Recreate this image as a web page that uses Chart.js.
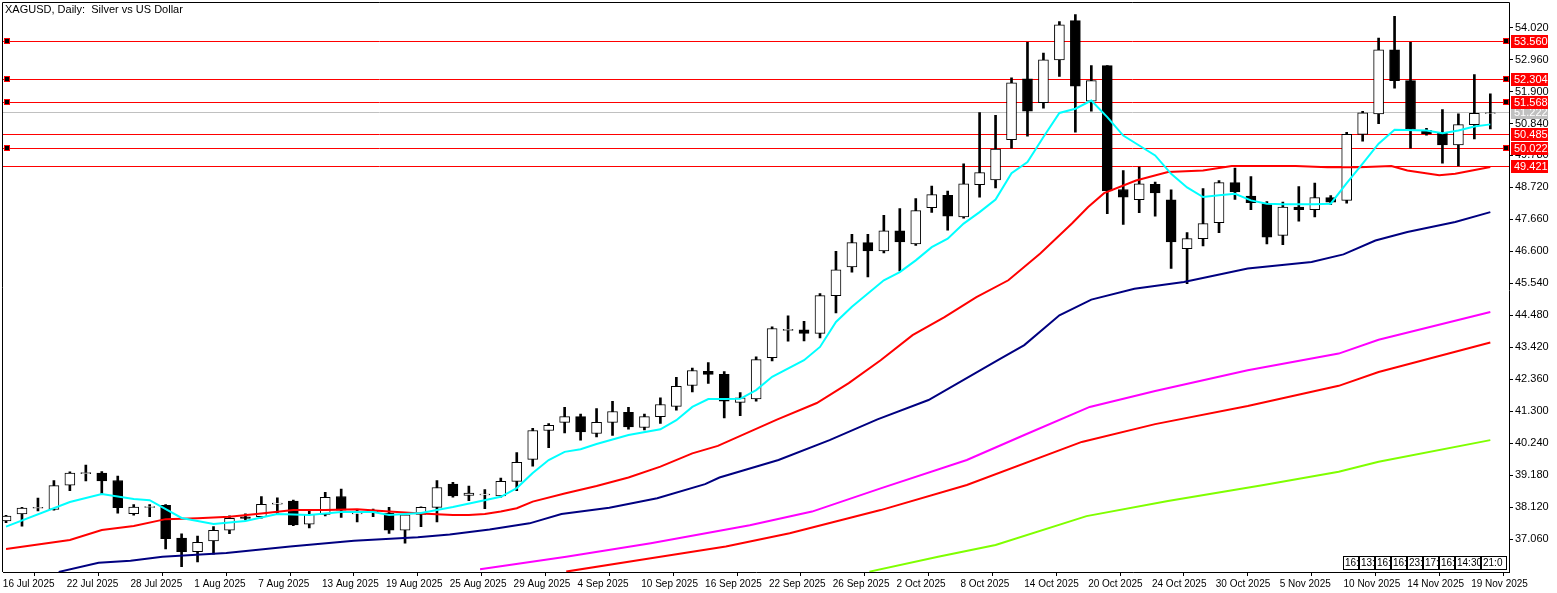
<!DOCTYPE html>
<html><head><meta charset="utf-8">
<script src="https://cdn.jsdelivr.net/npm/chart.js@4.4.1/dist/chart.umd.min.js"></script>
<style>html,body{margin:0;padding:0;background:#fff;overflow:hidden;}</style>
</head><body><canvas id="c" width="1557" height="593" style="width:1557px;height:593px;display:block"></canvas>
<script>
// OHLC per daily bar (index 0 = 16 Jul 2025)
const opens  = [37.66,37.89,38.08,38.04,38.85,39.23,39.25,39.00,37.90,38.11,38.18,37.09,36.64,37.00,37.35,37.80,37.80,38.22,38.32,37.55,37.88,38.47,37.89,37.97,37.91,37.35,37.88,38.11,38.88,38.51,38.52,38.49,38.97,39.70,40.66,40.93,41.12,40.56,40.93,41.26,40.76,41.12,41.46,42.15,42.62,42.52,41.59,41.71,43.07,43.98,44.00,43.88,45.13,46.08,46.89,46.61,47.28,46.85,48.05,48.46,47.74,48.81,48.97,50.30,52.32,51.53,52.95,54.25,51.58,52.76,48.65,48.31,48.82,48.31,46.69,47.02,47.55,48.88,48.43,48.18,47.13,48.07,47.98,48.38,48.29,50.48,51.16,53.28,52.26,50.61,50.53,50.13,50.80,51.17];
const closes = [37.82,38.09,38.11,38.83,39.25,39.26,38.99,38.10,38.12,38.14,37.07,36.64,36.95,37.35,37.75,37.74,38.21,38.25,37.53,37.88,38.44,38.02,37.92,37.99,37.35,37.86,38.11,38.77,38.49,38.58,38.55,38.97,39.60,40.66,40.83,41.12,40.61,40.93,41.29,40.78,41.12,41.52,42.12,42.65,42.52,41.63,41.74,43.01,44.04,44.01,43.88,45.13,45.99,46.89,46.61,47.28,46.91,47.95,48.48,47.77,48.84,49.21,49.99,52.19,51.25,52.95,54.11,52.08,52.26,48.60,48.40,48.84,48.54,46.91,47.02,47.52,48.88,48.57,48.21,47.07,48.07,47.98,48.38,48.23,50.48,51.19,53.28,52.26,50.64,50.50,50.13,50.80,51.18,51.19];
const highs  = [37.85,38.11,38.42,39.00,39.29,39.51,39.30,39.15,38.20,38.20,38.20,37.23,37.16,37.47,37.83,37.90,38.47,38.43,38.35,37.99,38.61,38.72,38.02,38.05,38.11,37.88,38.13,39.00,38.94,38.82,38.70,39.08,39.93,40.73,40.89,41.43,41.20,41.39,41.63,41.43,41.20,41.74,42.42,42.73,42.91,42.61,41.92,43.10,44.10,44.46,44.28,45.20,46.60,47.16,47.16,47.79,48.02,48.35,48.76,48.60,49.50,51.20,51.11,52.35,53.53,53.17,54.22,54.45,52.76,52.76,49.28,49.39,48.90,48.64,47.22,48.68,48.95,49.36,49.08,48.25,48.23,48.75,48.86,48.45,50.55,51.24,53.67,54.39,53.53,50.68,51.30,51.16,52.46,51.82];
const lows   = [37.60,37.49,37.99,38.02,38.66,38.99,38.55,37.92,37.85,37.80,36.73,36.14,36.30,36.56,37.24,37.69,37.75,37.90,37.50,37.43,37.83,37.78,37.63,37.80,37.25,36.92,37.47,37.63,38.45,38.33,38.07,38.45,38.66,39.48,40.09,40.58,40.34,40.45,40.50,40.70,40.68,40.89,41.33,41.94,42.22,41.08,41.15,41.63,42.97,43.62,43.63,43.73,44.56,45.91,45.75,46.55,45.95,46.80,47.89,47.30,47.70,48.40,48.70,50.02,50.42,51.35,52.40,50.55,51.25,47.85,47.49,47.88,47.77,46.03,45.53,46.78,47.22,48.32,47.98,46.85,46.82,47.60,47.74,48.15,48.20,50.25,50.83,52.01,50.02,50.45,49.52,49.43,50.33,50.66];

// Moving averages: [bar index, value] pairs
const maCyan = [[0,37.47],[4,38.29],[6,38.55],[8,38.39],[9,38.35],[11,37.76],[13,37.56],[15,37.66],[17,37.89],[19,37.86],[21,37.96],[23,37.96],[24,37.86],[26,37.92],[28,38.12],[31,38.46],[32,38.75],[33,39.25],[34,39.68],[35,39.95],[36,40.04],[37,40.21],[39,40.51],[41,40.70],[42,41.00],[43,41.44],[44,41.70],[45,41.70],[46,41.71],[47,42.00],[48,42.44],[50,42.99],[51,43.43],[52,44.26],[53,44.76],[55,45.64],[56,45.91],[57,46.30],[58,46.74],[59,47.02],[60,47.52],[61,47.90],[62,48.32],[63,49.19],[64,49.56],[65,50.39],[66,51.19],[67,51.33],[68,51.60],[69,51.05],[70,50.44],[71,50.11],[72,49.78],[73,49.17],[74,48.72],[75,48.40],[76,48.46],[77,48.51],[78,48.29],[79,48.18],[80,48.16],[82,48.16],[83,48.18],[84,48.86],[85,49.51],[86,50.17],[87,50.63],[89,50.61],[90,50.52],[91,50.61],[92,50.74],[93,50.81]];
const maRed = [[0,36.73],[4,37.03],[6,37.36],[8,37.49],[10,37.72],[12,37.75],[14,37.80],[16,37.91],[18,38.02],[20,38.02],[22,38.05],[24,37.97],[26,37.91],[28,37.86],[29,37.86],[30,37.89],[31,37.97],[32,38.08],[33,38.30],[35,38.57],[37,38.82],[39,39.10],[41,39.46],[43,39.90],[44.6,40.15],[48.3,41.02],[50.8,41.57],[52.8,42.23],[54.8,42.99],[56.8,43.82],[58.8,44.42],[60.8,45.08],[62.8,45.64],[64.8,46.53],[66.8,47.53],[67.8,48.07],[68.8,48.53],[70.8,48.95],[72.8,49.23],[75,49.28],[76.8,49.43],[80.8,49.43],[82.8,49.39],[84.8,49.39],[86.8,49.43],[87.8,49.28],[89.8,49.12],[90.8,49.17],[93,49.40]];
const maNavy = [[3.3,35.97],[5.8,36.27],[7.8,36.34],[9.8,36.47],[13.8,36.60],[17.8,36.81],[21.8,37.00],[25.8,37.12],[27.8,37.21],[30.3,37.38],[32.8,37.58],[34.8,37.89],[37.8,38.10],[40.8,38.41],[43.8,38.88],[44.7,39.10],[48.4,39.68],[51.6,40.34],[54.6,41.03],[57.8,41.67],[62.2,43.01],[63.8,43.49],[66,44.48],[68,45.00],[70.7,45.36],[73.8,45.58],[77.8,46.03],[81.8,46.25],[83.8,46.50],[85.8,46.96],[87.8,47.24],[90.8,47.57],[93,47.90]];
const maMagenta = [[29.7,36.06],[35.1,36.47],[40.4,36.92],[46.6,37.52],[50.5,37.97],[54.8,38.74],[60.2,39.68],[63.8,40.51],[67.9,41.44],[72,41.97],[77.8,42.66],[83.5,43.21],[86,43.67],[93,44.59]];
const maRed2 = [[35.1,35.98],[40.4,36.42],[45.1,36.81],[49.1,37.25],[54.8,38.02],[60.2,38.85],[67.4,40.28],[72,40.87],[77.8,41.47],[83.5,42.14],[86,42.60],[93,43.58]];
const maGreen = [[54.1,35.98],[58.4,36.47],[62,36.86],[67.7,37.82],[72.8,38.32],[78.8,38.85],[83.5,39.29],[86,39.62],[93,40.34]];

const dateLabels = ['16 Jul 2025','22 Jul 2025','28 Jul 2025','1 Aug 2025','7 Aug 2025','13 Aug 2025','19 Aug 2025','25 Aug 2025','29 Aug 2025','4 Sep 2025','10 Sep 2025','16 Sep 2025','22 Sep 2025','26 Sep 2025','2 Oct 2025','8 Oct 2025','14 Oct 2025','20 Oct 2025','24 Oct 2025','30 Oct 2025','5 Nov 2025','10 Nov 2025','14 Nov 2025','19 Nov 2025'];
const dateIdx = [0,4,8,12,16,20,24,28,32,36,40,44,48,52,56,60,64,68,72,76,80,84,88,92];
const priceTicks = [54.020,52.960,51.900,50.840,49.780,48.720,47.660,46.600,45.540,44.480,43.420,42.360,41.300,40.240,39.180,38.120,37.060];
const redLevels = [53.560,52.304,51.568,50.485,50.022,49.421];
const markedLevels = [53.560,52.304,51.568,50.022];
const bidLevel = 51.222;
const timeBoxes = ['16:','13:','16:','16:','23:','17:','16:','14:30','21:0'];
const title = 'XAGUSD, Daily:  Silver vs US Dollar';

const FONT = '"Liberation Sans", Arial, sans-serif';
const idx = opens.map((_, i) => i);
const wickData = idx.map(i => ({x: i, y: [lows[i], highs[i]]}));
const bodyData = idx.map(i => ({x: i, y: [opens[i], closes[i]]}));
const bodyFill = idx.map(i => closes[i] >= opens[i] ? '#ffffff' : '#000000');
const toPts = a => a.map(p => ({x: p[0], y: p[1]}));
const lineDs = (d, c) => ({type: 'line', data: toPts(d), borderColor: c, borderWidth: 2, pointRadius: 0, tension: 0, order: -1, clip: true});

const overlay = {
  id: 'overlay',
  beforeDatasetsDraw(chart) {
    const {ctx, chartArea: a, scales: {y}} = chart;
    ctx.save();
    ctx.lineWidth = 1;
    ctx.strokeStyle = '#c0c0c0';
    let py = Math.round(y.getPixelForValue(bidLevel)) + 0.5;
    ctx.beginPath(); ctx.moveTo(a.left, py); ctx.lineTo(a.right, py); ctx.stroke();
    ctx.strokeStyle = '#ff0000';
    redLevels.forEach(v => {
      const p = Math.round(y.getPixelForValue(v)) + 0.5;
      ctx.beginPath(); ctx.moveTo(a.left, p); ctx.lineTo(a.right, p); ctx.stroke();
    });
    ctx.restore();
  },
  afterDraw(chart) {
    const {ctx, chartArea: a, scales: {x, y}} = chart;
    ctx.save();
    ctx.strokeStyle = '#000'; ctx.lineWidth = 1;
    ctx.beginPath();
    ctx.moveTo(a.left - 0.5, a.bottom); ctx.lineTo(a.left - 0.5, 2.5); ctx.lineTo(a.right + 0.5, 2.5); ctx.lineTo(a.right + 0.5, a.top);
    ctx.stroke();
    ctx.fillStyle = '#000';
    ctx.font = '11px ' + FONT;
    ctx.textBaseline = 'middle'; ctx.textAlign = 'left';
    ctx.fillText(title, 5, 10);
    const box = (v, bg) => {
      const p = Math.round(y.getPixelForValue(v));
      ctx.fillStyle = bg;
      ctx.fillRect(a.right + 2, p - 6, 37, 13);
      ctx.fillStyle = '#fff';
      ctx.fillText(v.toFixed(3), a.right + 5, p + 1);
    };
    box(bidLevel, '#c0c0c0');
    redLevels.forEach(v => box(v, '#ff0000'));
    markedLevels.forEach(v => {
      const p = Math.round(y.getPixelForValue(v));
      [a.left + 4, a.right - 3].forEach(cx => {
        ctx.fillStyle = '#ff0000'; ctx.fillRect(cx - 3, p - 3, 6, 6);
        ctx.fillStyle = '#000'; ctx.fillRect(cx - 2, p - 2, 4, 4);
      });
    });
    ctx.font = '10px ' + FONT;
    let bx = Math.round(x.getPixelForValue(84 - 0.2));
    timeBoxes.forEach(t => {
      const w = t.length > 3 ? 26 : 16;
      const ww = Math.min(w, a.right - bx);
      ctx.fillStyle = '#fff'; ctx.fillRect(bx, a.bottom - 16, ww, 14);
      ctx.strokeStyle = '#000'; ctx.strokeRect(bx + 0.5, a.bottom - 15.5, ww - 1, 13);
      ctx.save(); ctx.beginPath(); ctx.rect(bx, a.bottom - 16, ww, 14); ctx.clip();
      ctx.fillStyle = '#000'; ctx.fillText(t, bx + 2, a.bottom - 9);
      ctx.restore();
      bx += ww;
    });
    ctx.restore();
  }
};

new Chart(document.getElementById('c'), {
  type: 'bar',
  data: {
    datasets: [
      lineDs(maCyan, '#00ffff'),
      lineDs(maRed, '#ff0000'),
      lineDs(maNavy, '#000080'),
      lineDs(maMagenta, '#ff00ff'),
      lineDs(maRed2, '#ff0000'),
      lineDs(maGreen, '#7fff00'),
      {data: bodyData, backgroundColor: bodyFill, borderColor: '#000', borderWidth: 1, borderSkipped: false, barThickness: 10, grouped: false, order: 0},
      {data: wickData, backgroundColor: '#000', borderWidth: 0, barThickness: 2, grouped: false, order: 1}
    ]
  },
  options: {
    responsive: false, animation: false, devicePixelRatio: 1,
    layout: {padding: {left: 3, top: 0, right: 0, bottom: 0}},
    plugins: {legend: {display: false}, tooltip: {enabled: false}},
    scales: {
      x: {
        type: 'linear', min: -0.19, max: 94.17, offset: false,
        afterBuildTicks: s => { s.ticks = dateIdx.map(v => ({value: v - 0.2})); },
        afterFit: s => { s.height = 21; },
        ticks: {autoSkip: false, maxRotation: 0, align: 'start', padding: 2, color: '#000', font: {family: FONT, size: 10},
          callback: (v, i) => dateLabels[i]},
        grid: {drawOnChartArea: false, drawTicks: true, tickLength: 4, color: '#000'},
        border: {display: true, color: '#000'}
      },
      y: {
        position: 'right', min: 35.967, max: 54.649,
        afterBuildTicks: s => { s.ticks = priceTicks.map(v => ({value: v})); },
        afterFit: s => { s.width = 48; },
        ticks: {padding: 2, color: '#000', font: {family: FONT, size: 11}, callback: v => Number(v).toFixed(3)},
        grid: {drawOnChartArea: false, drawTicks: true, tickLength: 4, color: '#000'},
        border: {display: true, color: '#000'}
      }
    }
  },
  plugins: [overlay]
});
</script>
</body></html>
